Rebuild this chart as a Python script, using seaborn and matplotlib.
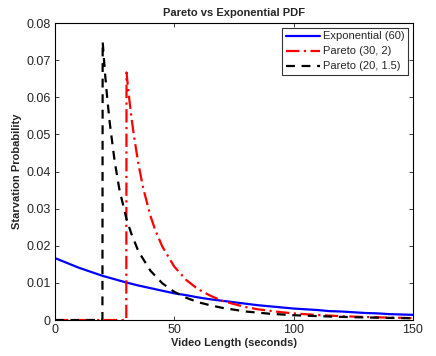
import numpy as np
import pandas as pd
import matplotlib
matplotlib.use("Agg")
import matplotlib.pyplot as plt
import seaborn as sns

# values
exp_x = [0, 5, 10, 15, 20, 25, 30, 35, 40, 45, 50, 55, 60, 65, 70, 75, 80, 85, 90,
         95, 100, 105, 110, 115, 120, 125, 130, 135, 140, 145, 150]
exp_y = [0.0167, 0.0154, 0.0141, 0.0130, 0.0119, 0.0110, 0.0101, 0.0093, 0.0086,
         0.0079, 0.0072, 0.0067, 0.0061, 0.0056, 0.0052, 0.0048, 0.0044, 0.0040,
         0.0037, 0.0034, 0.0031, 0.0029, 0.0027, 0.0024, 0.0023, 0.0021, 0.0019,
         0.0018, 0.0016, 0.0015, 0.0014]

p30_x = [0, 29.9, 30, 31, 32, 33, 35, 37, 40, 42, 45, 50, 55, 60, 65, 70, 75, 80,
         85, 90, 95, 100, 110, 120, 130, 140, 150]
p30_y = [0, 0, 0.0667, 0.0604, 0.0549, 0.0501, 0.0420, 0.0355, 0.0281, 0.0243,
         0.0198, 0.0144, 0.0108, 0.0083, 0.0066, 0.0052, 0.0043, 0.0035, 0.0029,
         0.0025, 0.0021, 0.0018, 0.00135, 0.00104, 0.00082, 0.00066, 0.00053]

p20_x = [0, 19.9, 20, 21, 22, 23, 25, 27, 30, 32, 35, 40, 45, 50, 55, 60, 65, 70,
         75, 80, 90, 100, 110, 120, 130, 140, 150]
p20_y = [0, 0, 0.0750, 0.0664, 0.0592, 0.0530, 0.0429, 0.0352, 0.0272, 0.0233,
         0.0185, 0.0133, 0.0099, 0.0076, 0.0060, 0.0048, 0.0040, 0.0033, 0.0028,
         0.0023, 0.0017, 0.0013, 0.00106, 0.00085, 0.00070, 0.00058, 0.00049]

labels = ["Exponential (60)", "Pareto (30, 2)", "Pareto (20, 1.5)"]

sns.set_theme(style="ticks")
plt.rcParams['font.family'] = ['Liberation Sans', 'DejaVu Sans']

fig = plt.figure(figsize=(4.36, 3.56), dpi=100)
ax = fig.add_axes([0.126, 0.101, 0.821, 0.834])

sns.lineplot(x=exp_x, y=exp_y, ax=ax, color="#0000ff", lw=1.6, label=labels[0])
sns.lineplot(x=p30_x, y=p30_y, ax=ax, color="#ff0000", lw=1.6,
             linestyle=(0, (6, 2, 1, 2)), label=labels[1], sort=False)
sns.lineplot(x=p20_x, y=p20_y, ax=ax, color="black", lw=1.6,
             linestyle=(0, (4, 3)), label=labels[2], sort=False)

ax.set_xlim(0, 150)
ax.set_ylim(0, 0.08)
ax.set_xticks([0, 50, 100, 150])
ax.set_yticks(np.arange(0, 0.081, 0.01))
ax.set_yticklabels(["0", "0.01", "0.02", "0.03", "0.04", "0.05", "0.06", "0.07", "0.08"])
ax.tick_params(direction="in", top=True, right=True, labelsize=9, length=3, width=0.6, pad=3)
for s in ax.spines.values():
    s.set_linewidth(0.8)
    s.set_color("black")

ax.set_title("Pareto vs Exponential PDF", fontsize=8, fontweight="bold", pad=5)
ax.set_xlabel("Video Length (seconds)", fontsize=8, fontweight="bold", labelpad=1)
ax.set_ylabel("Starvation Probability", fontsize=8, fontweight="bold", labelpad=3)

leg = ax.legend(loc="upper right", fontsize=8, frameon=True, fancybox=False,
                borderaxespad=0.4, handlelength=3.0, labelspacing=0.45,
                borderpad=0.35, handletextpad=0.3)
leg.get_frame().set_edgecolor("black")
leg.get_frame().set_linewidth(0.8)

fig.savefig("out.png", dpi=100)
